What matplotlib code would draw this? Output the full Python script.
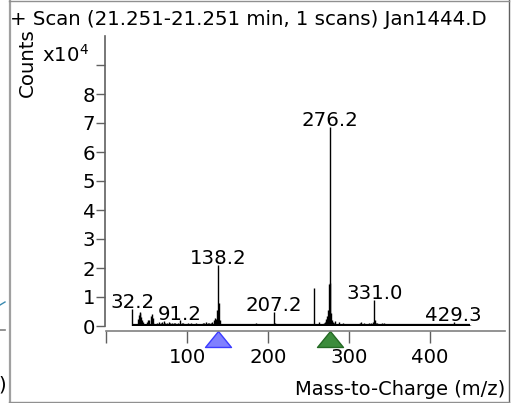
import matplotlib
matplotlib.use("Agg")
import matplotlib.pyplot as plt
from matplotlib.path import Path
from matplotlib.lines import Line2D
import matplotlib.transforms as mtrans

plt.rcParams['font.family'] = ['DejaVu Sans']

# ---- data ----
title = "+ Scan (21.251-21.251 min, 1 scans) Jan1444.D"
mz = [32.2, 39, 40, 41, 42, 43, 44, 45, 50, 51, 53, 55, 56, 57, 58,
      63, 65, 67, 69, 71, 73, 75, 77, 79, 81, 83, 85, 87, 89, 91.2, 93, 95, 97, 99,
      101, 103, 105, 107, 109, 111, 113, 115, 117, 119, 121, 123, 125, 127, 129, 131,
      133, 134, 135, 136, 137, 138.2, 139, 140, 141, 143, 145, 147, 149, 151, 153, 155,
      157, 159, 161, 163, 165, 167, 169, 171, 173, 175, 177, 179, 181, 183, 185, 187,
      189, 191, 193, 195, 197, 199, 201, 203, 205, 207.2, 208, 209, 211, 213, 215, 217,
      219, 221, 223, 225, 227, 229, 231, 233, 235, 237, 239, 241, 243, 245, 247, 249,
      251, 253, 255, 257, 257.2, 259, 261, 263, 265, 267, 269, 270, 271, 272, 273, 274,
      275, 276.2, 277, 278, 279, 280, 281, 282, 283, 285, 287, 289, 291, 293, 295, 297,
      299, 301, 303, 305, 307, 309, 311, 313, 315, 317, 319, 321, 323, 325, 327, 329,
      331.0, 332, 333, 335, 337, 339, 341, 343, 345, 347, 349, 351, 353, 355, 357, 359,
      361, 363, 365, 367, 369, 371, 373, 375, 377, 379, 381, 383, 385, 387, 389, 391,
      393, 395, 397, 399, 401, 403, 405, 407, 409, 411, 413, 415, 417, 419, 421, 423,
      425, 427, 429.3, 431, 433, 435, 437, 439, 441, 443, 445, 449]
counts = [5900, 2500, 3800, 5000, 4500, 3000, 2000, 1500, 1500, 2000, 2200, 3600, 4200, 2800, 1200,
          1000, 1500, 1200, 1300, 1600, 900, 1100, 1300, 1000, 1200, 900, 1000, 800, 1100, 2000, 900, 1100, 800, 700,
          900, 700, 1000, 800, 600, 900, 700, 800, 700, 900, 1100, 1500, 1000, 900, 1200, 1400,
          2200, 2600, 1800, 2500, 5500, 21000, 8000, 2000, 800, 500, 600, 500, 700, 400, 500, 600,
          400, 500, 400, 600, 500, 400, 500, 400, 500, 600, 700, 400, 500, 600, 900, 500,
          400, 700, 500, 400, 600, 500, 400, 500, 700, 5000, 1200, 600, 400, 500, 400, 600,
          400, 700, 400, 500, 600, 400, 500, 400, 600, 400, 500, 700, 500, 400, 600, 500,
          400, 700, 500, 600, 13000, 700, 500, 1400, 600, 800, 1000, 1500, 2500, 1800, 3500, 5500,
          14500, 68600, 15000, 4500, 2000, 1500, 900, 1800, 800, 600, 1500, 700, 600, 900, 600, 800,
          500, 600, 700, 500, 600, 400, 500, 900, 1300, 800, 1100, 600, 500, 1200, 1000, 1500,
          9000, 2000, 1200, 1000, 800, 600, 900, 1100, 600, 800, 700, 500, 600, 800, 500, 600,
          400, 700, 500, 400, 600, 500, 400, 500, 600, 400, 500, 400, 600, 400, 500, 400,
          300, 500, 400, 300, 500, 400, 600, 300, 500, 400, 300, 500, 400, 600, 300, 500,
          400, 300, 1500, 600, 400, 300, 500, 300, 400, 300, 200, 300]
label_mz = [32.2, 91.2, 138.2, 207.2, 276.2, 331.0, 429.3]
label_counts = [5900, 2000, 21000, 5000, 68600, 9000, 1500]
marker_mz = [138.2, 276.2]
marker_face = ['#8080ff', '#3c8c3c']
marker_edge = ['#3c3cff', '#246a24']
x_ticks = [0, 100, 200, 300, 400]
x_ticklabels = ['', '100', '200', '300', '400']
y_ticks = [0, 1, 2, 3, 4, 5, 6, 7, 8, 9]
y_ticklabels = ['0', '1', '2', '3', '4', '5', '6', '7', '8', '']

FS = 14.2
W, H = 514, 403
fig = plt.figure(figsize=(W / 100, H / 100), dpi=100)
# axes: x from px 106.4 to 505, y data 0 at px 326, top at px 36
ax = fig.add_axes([106.4 / W, (H - 326) / H, (505 - 106.4) / W, (326 - 36) / H])
ax.set_xlim(0, (505 - 106.4) / 0.809)
ax.set_ylim(0, 10)

ys = [c / 1e4 for c in counts]
ax.vlines(mz, 0, ys, color='black', linewidth=1.0)
ax.plot([min(mz) - 1, max(mz) + 1], [0.02, 0.02], color='black', linewidth=1.6, solid_capstyle='butt')

for m, c in zip(label_mz, label_counts):
    ax.annotate(f"{m:.1f}", xy=(m, c / 1e4), xytext=(0, 0.5), textcoords='offset points',
                ha='center', va='baseline', fontsize=FS, color='black')

# spines
for s in ['top', 'right']:
    ax.spines[s].set_visible(False)
ax.spines['bottom'].set_position(('outward', 3.6))
ax.spines['left'].set_position(('outward', 1.0))
ax.spines['bottom'].set_color('#808080')
ax.spines['left'].set_color('#606060')
ax.spines['bottom'].set_linewidth(1.2)
ax.spines['left'].set_linewidth(1.2)

ax.set_xticks(x_ticks)
ax.set_xticklabels(x_ticklabels)
ax.set_yticks(y_ticks)
ax.set_yticklabels(y_ticklabels)
ax.tick_params(axis='x', direction='out', length=8.6, width=1.0, color='#606060',
               labelsize=FS, pad=3.5)
ax.tick_params(axis='y', direction='out', length=6.5, width=1.0, color='#606060',
               labelsize=FS, pad=0.5)

# triangle markers below axis
tri = Path([(-13, -16), (13, -16), (0, 0), (-13, -16)],
           [Path.MOVETO, Path.LINETO, Path.LINETO, Path.CLOSEPOLY])
trans = mtrans.blended_transform_factory(ax.transData, ax.transAxes)
for m, fc, ec in zip(marker_mz, marker_face, marker_edge):
    ax.plot([m], [-5 / 290], marker=tri, markersize=23.0, markerfacecolor=fc,
            markeredgecolor=ec, markeredgewidth=1.0, transform=trans, clip_on=False,
            linestyle='none')

# texts
fig.text(10 / W, 1 - 25 / H, title, ha='left', va='baseline', fontsize=FS)
fig.text(27 / W, 1 - 63 / H, 'Counts', rotation=90, ha='center', va='center', fontsize=FS)
fig.text(89 / W, 1 - 62 / H, r'x10$^4$', ha='right', va='baseline', fontsize=FS)
fig.text(505 / W, 1 - 395 / H, 'Mass-to-Charge (m/z)', ha='right', va='baseline', fontsize=14.0)

# panel frame and neighbour fragments
fig.add_artist(Line2D([9.5 / W, 9.5 / W], [0, 1], color='#a0a0a0', linewidth=1.6, transform=fig.transFigure))
fig.add_artist(Line2D([508.5 / W, 508.5 / W], [0, 1], color='#606060', linewidth=1.0, transform=fig.transFigure))
fig.add_artist(Line2D([9 / W, 509 / W], [1 - 1 / H, 1 - 1 / H], color='#909090', linewidth=1.0, transform=fig.transFigure))
fig.add_artist(Line2D([9 / W, 509 / W], [1 - 401.5 / H, 1 - 401.5 / H], color='#909090', linewidth=1.0, transform=fig.transFigure))
fig.add_artist(Line2D([0, 5 / W], [1 - 330 / H, 1 - 330 / H], color='#808080', linewidth=1.2, transform=fig.transFigure))
fig.add_artist(Line2D([0, 5 / W], [1 - 305 / H, 1 - 302 / H], color='#3a8ab0', linewidth=1.0, transform=fig.transFigure))
fig.text(-2 / W, 1 - 385 / H, ')', ha='left', va='center', fontsize=FS)

fig.savefig('out.png', dpi=100)
